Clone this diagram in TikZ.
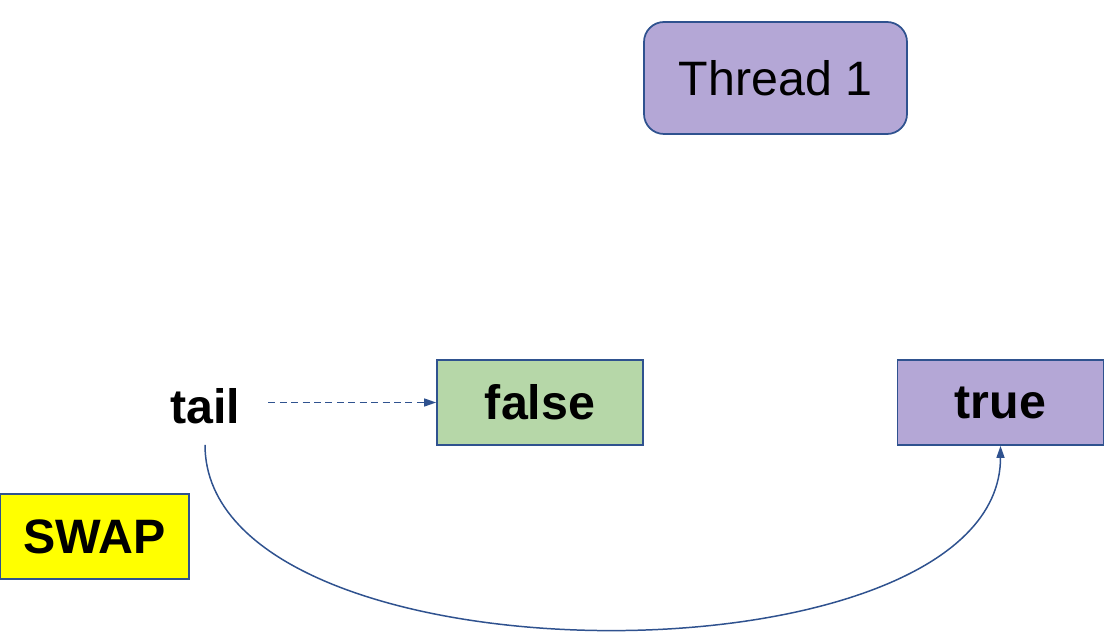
\documentclass[tikz,border=0pt]{standalone}
\usepackage{fontspec}
\setmainfont{Liberation Sans}
\definecolor{edgeblue}{RGB}{47, 82, 143}
\definecolor{threadpurple}{RGB}{180, 167, 214}
\definecolor{valuegreen}{RGB}{182, 215, 168}
\definecolor{swapyellow}{RGB}{255, 255, 0}
\usepackage{tikz}
\usetikzlibrary{arrows.meta, positioning, calc}
\usepackage{xcolor}

\begin{document}
\begin{tikzpicture}[
  valbox/.style={draw=edgeblue, line width=1pt, rectangle, inner sep=0pt, minimum width=4.12cm, minimum height=1.7cm, font=\fontsize{27.5}{33}\selectfont\bfseries},
  link/.style={draw=edgeblue, line width=0.85pt, -{Triangle[length=2.4mm, width=1.6mm]}}
]
\useasboundingbox (0,0) rectangle (22.26,12.76);
\node[draw=edgeblue, line width=1pt, rounded corners=0.4cm, fill=threadpurple, minimum width=5.26cm, minimum height=2.24cm, font=\fontsize{27.5}{33}\selectfont] (thread) at (15.51,11.2) {Thread 1};
\node[inner sep=0pt, minimum width=2.52cm, minimum height=1.54cm, font=\fontsize{27.5}{33}\selectfont\bfseries] (tail) at (4.1,4.64) {tail};
\node[valbox, fill=valuegreen] (false) at (10.8,4.71) {false};
\node[valbox, fill=threadpurple] (true) at (20.01,4.71) {true};
\node[draw=edgeblue, line width=1pt, rectangle, fill=swapyellow, inner sep=0pt, minimum width=3.78cm, minimum height=1.7cm, font=\fontsize{27.5}{33}\selectfont\bfseries] (swap) at (1.89,2.03) {SWAP};
\draw[link, dash pattern=on 4pt off 2.5pt] (tail.east |- false.west) -- (false.west);
\draw[link] (tail.south) .. controls +(0,-4.9) and +(0,-4.9) .. (true.south);
\end{tikzpicture}
\end{document}
